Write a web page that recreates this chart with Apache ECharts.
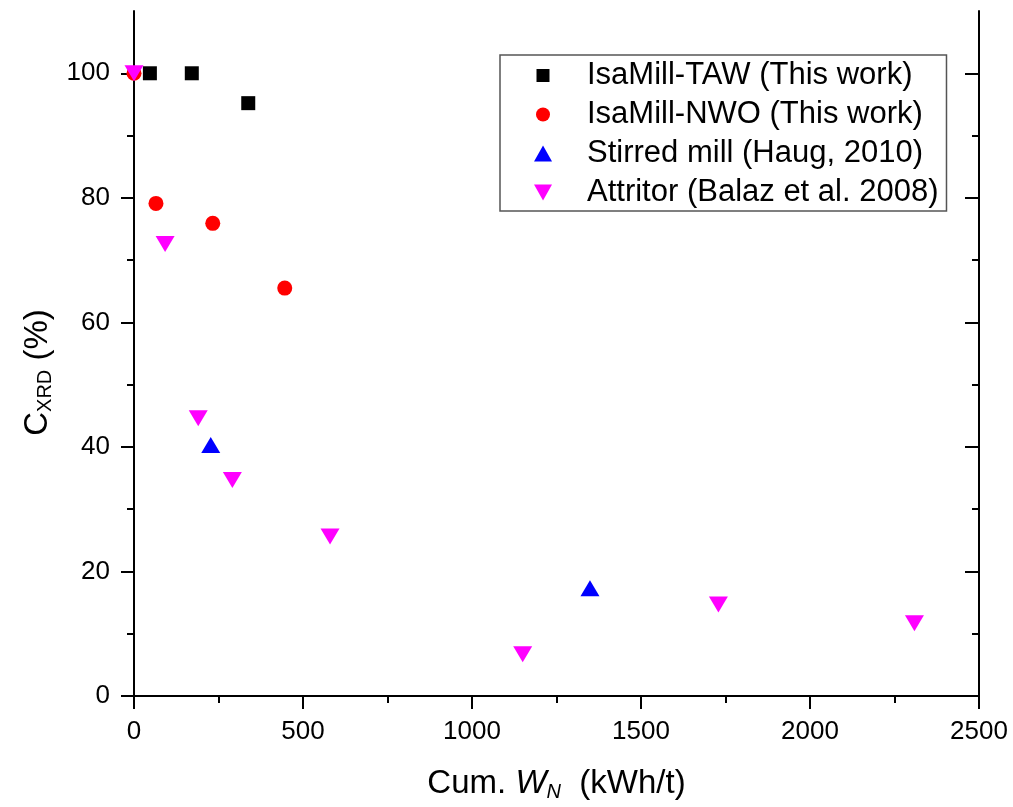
<!DOCTYPE html>
<html>
<head>
<meta charset="utf-8">
<script src="https://cdn.jsdelivr.net/npm/echarts@6/dist/echarts.min.js"></script>
<style>html,body{margin:0;padding:0;background:#fff;}#c{width:1013px;height:807px;}</style>
</head>
<body>
<div id="c"></div>
<script>
// ---- data ----
const seriesNames = ['IsaMill-TAW (This work)', 'IsaMill-NWO (This work)', 'Stirred mill (Haug, 2010)', 'Attritor (Balaz et al. 2008)'];
const tawData = [[47, 100], [171, 100], [338, 95.2]];
const nwoData = [[0, 100], [65, 79.1], [233, 75.9], [446, 65.5]];
const haugData = [[227, 40.3], [1349, 17.3]];
const attritorData = [[0, 100], [92, 72.6], [190, 44.6], [291, 34.7], [580, 25.6], [1150, 6.7], [1729, 14.7], [2309, 11.7]];
const yMajorTicks = [0, 20, 40, 60, 80, 100];
const yMinorTicks = [10, 30, 50, 70, 90];
const xTitle = '{r|Cum. }{i|W}{s|N}{r|  (kWh/t)}';
const yTitle = '{r|C}{s|XRD}{r| (%)}';

const FONT = 'Liberation Sans, Arial, Helvetica, sans-serif';
const chart = echarts.init(document.getElementById('c'), null, {renderer: 'canvas'});

const blackLine = {show: true, lineStyle: {color: '#000', width: 2}};
const legendIcons = [
  'path://M0,0M78,18M32.5,2.5h13v13h-13z',
  'path://M0,0M78,18M32,9a7,7 0 1,0 14,0a7,7 0 1,0 -14,0z',
  'path://M0,0M78,18M30,17L39,1L48,17z',
  'path://M0,0M78,18M30,1L48,1L39,17z'
];

const yBase = {type: 'value', min: 0, max: 110, splitLine: {show: false}};

chart.setOption({
  animation: false,
  backgroundColor: '#fff',
  grid: {left: 134, top: 11, right: 34, bottom: 110, containLabel: false},
  legend: {
    left: 500, top: 55, orient: 'vertical',
    padding: [5, 8, 3, 4],
    itemGap: 8, itemWidth: 78, itemHeight: 18,
    borderColor: '#555', borderWidth: 1.5,
    selectedMode: false,
    textStyle: {fontFamily: FONT, fontSize: 31, color: '#000'},
    data: seriesNames.map((n, i) => ({name: n, icon: legendIcons[i]}))
  },
  xAxis: [
    {
      type: 'value', position: 'bottom', min: 0, max: 2500, interval: 500,
      axisLine: blackLine,
      axisTick: {show: true, inside: false, length: 13, lineStyle: {color: '#000', width: 2}},
      minorTick: {show: true, splitNumber: 2, length: 7, lineStyle: {color: '#000', width: 2}},
      axisLabel: {fontFamily: FONT, fontSize: 26, color: '#000', margin: 23, formatter: v => String(v)},
      splitLine: {show: false},
      name: xTitle, nameLocation: 'middle', nameGap: 70,
      nameTextStyle: {
        rich: {
          r: {fontFamily: FONT, fontSize: 33, color: '#000', lineHeight: 36},
          i: {fontFamily: FONT, fontSize: 33, fontStyle: 'italic', color: '#000', lineHeight: 36},
          s: {fontFamily: FONT, fontSize: 20, fontStyle: 'italic', color: '#000', lineHeight: 12, verticalAlign: 'bottom'}
        }
      }
    },
    {
      type: 'value', position: 'top', min: 0, max: 2500, interval: 500,
      axisLine: blackLine, axisTick: {show: false}, axisLabel: {show: false}, splitLine: {show: false}
    }
  ],
  yAxis: [
    Object.assign({}, yBase, {
      position: 'left',
      axisLine: blackLine,
      axisTick: {show: true, inside: false, length: 13, customValues: yMajorTicks, lineStyle: {color: '#000', width: 2}},
      axisLabel: {fontFamily: FONT, fontSize: 26, color: '#000', margin: 24, customValues: yMajorTicks},
      name: yTitle, nameLocation: 'middle', nameGap: 73, nameRotate: 90,
      nameTextStyle: {
        padding: [0, 38, 0, 0],
        rich: {
          r: {fontFamily: FONT, fontSize: 33, color: '#000', lineHeight: 36},
          s: {fontFamily: FONT, fontSize: 20, color: '#000', lineHeight: 14, verticalAlign: 'bottom'}
        }
      }
    }),
    Object.assign({}, yBase, {
      position: 'left',
      axisLine: {show: false},
      axisTick: {show: true, inside: false, length: 7, customValues: yMinorTicks, lineStyle: {color: '#000', width: 2}},
      axisLabel: {show: false}
    }),
    Object.assign({}, yBase, {
      position: 'right',
      axisLine: blackLine,
      axisTick: {show: true, inside: true, length: 14, customValues: yMajorTicks, lineStyle: {color: '#000', width: 2}},
      axisLabel: {show: false}
    }),
    Object.assign({}, yBase, {
      position: 'right',
      axisLine: {show: false},
      axisTick: {show: true, inside: true, length: 7, customValues: yMinorTicks, lineStyle: {color: '#000', width: 2}},
      axisLabel: {show: false}
    })
  ],
  series: [
    {name: seriesNames[0], type: 'scatter', data: tawData, symbol: 'rect', symbolSize: 14, itemStyle: {color: '#000000', opacity: 1}},
    {name: seriesNames[1], type: 'scatter', data: nwoData, symbol: 'circle', symbolSize: 15, itemStyle: {color: '#ff0000', opacity: 1}},
    {name: seriesNames[2], type: 'scatter', data: haugData, symbol: 'triangle', symbolSize: [19, 16], itemStyle: {color: '#0000ff', opacity: 1}},
    {name: seriesNames[3], type: 'scatter', data: attritorData, symbol: 'triangle', symbolRotate: 180, symbolSize: [19, 16], itemStyle: {color: '#ff00ff', opacity: 1}}
  ]
});
</script>
</body>
</html>
